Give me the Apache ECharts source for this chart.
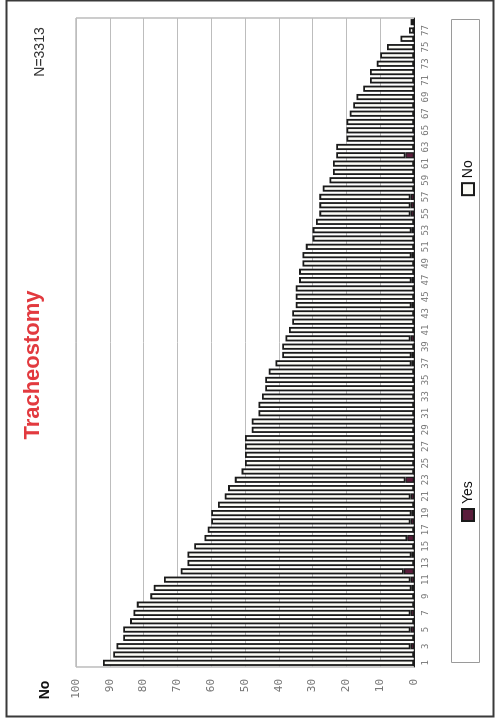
<!DOCTYPE html>
<html>
<head>
<meta charset="utf-8">
<script src="https://cdn.jsdelivr.net/npm/echarts@6/dist/echarts.min.js"></script>
<style>
html,body{margin:0;padding:0;background:#fff;width:495px;height:722px;overflow:hidden;}
#wrap{position:absolute;left:0;top:722px;width:722px;height:495px;transform-origin:0 0;transform:rotate(-90deg);}
</style>
</head>
<body>
<div id="wrap"></div>
<script>
const categories = ['1','2','3','4','5','6','7','8','9','10','11','12','13','14','15','16','17','18','19','20',
'21','22','23','24','25','26','27','28','29','30','31','32','33','34','35','36','37','38','39','40',
'41','42','43','44','45','46','47','48','49','50','51','52','53','54','55','56','57','58','59','60',
'61','62','63','64','65','66','67','68','69','70','71','72','73','74','75','76','77','78'];
const yesValues = [0,0,1,0,1,0,1,0,0,0.7, 1,3,0,0.7,0,2,0,1,0.7,0, 1,0,2.5,0,0,0,0,0,0,0,
0,0,0,0,0,0,0.7,0.7,0,1, 0,0,0,0.7,0,0,0.7,0,0,0.7, 0,0,0.7,0,1,1,1,0,0,0,
0,2.5,0,0,0,0,0,0,0,0, 0,0,0,0,0,0,0,0];
const noValues = [92,89,87,86,85,84,82,82,78,76.3, 73,66,67,66.3,65,60,61,59,59.3,58, 55,55,50.5,51,50,50,50,50,48,48,
46,46,45,44,44,43,40.3,38.3,39,37, 37,36,36,34.3,35,35,33.3,34,33,32.3, 32,30,29.3,29,27,27,27,27,25,24,
24,20.5,23,20,20,20,19,18,17,15, 13,13,11,10,8,4,1.5,1];
const seriesNames = ['Yes','No'];
const valueTicks = {min:0, max:100, interval:10};
const titleText = 'Tracheostomy';
const axisTitle = 'No';
const sampleText = 'N=3313';

const chart = echarts.init(document.getElementById('wrap'), null, {width:722, height:495});
const option = {
  animation: false,
  backgroundColor: '#ffffff',
  grid: {left:55, right:18, top:76, bottom:81, show:true, borderColor:'#9a9a9a', borderWidth:1, backgroundColor:'transparent'},
  xAxis: {
    type:'category', data:categories, position:'bottom',
    axisLine:{show:true, lineStyle:{color:'#222', width:1}},
    axisTick:{show:false},
    axisLabel:{interval:1, color:'#777', fontFamily:'DejaVu Sans Mono', fontSize:9, margin:7}
  },
  yAxis: {
    type:'value', min:valueTicks.min, max:valueTicks.max, interval:valueTicks.interval,
    axisLine:{show:false}, axisTick:{show:false},
    axisLabel:{color:'#777', fontFamily:'DejaVu Sans Mono', fontSize:11, margin:12},
    splitLine:{show:true, lineStyle:{color:'#bdbdbd', width:1}}
  },
  legend: {
    data: seriesNames, left:195, top:456, itemWidth:12, itemHeight:12, itemGap:285, icon:'rect',
    textStyle:{fontFamily:'Liberation Sans', fontSize:14, color:'#111'}
  },
  series: [
    {name:seriesNames[0], type:'bar', stack:'t', data:yesValues, barCategoryGap:'26%',
     itemStyle:{color:'#5a1d3b', borderColor:'#1a1a1a', borderWidth:1.3}},
    {name:seriesNames[1], type:'bar', stack:'t', data:noValues, barCategoryGap:'26%',
     itemStyle:{color:'#fbfbf6', borderColor:'#1a1a1a', borderWidth:1.8}}
  ],
  graphic: [
    {type:'rect', left:3, top:4, shape:{width:716, height:487}, style:{fill:'none', stroke:'#3a3a3a', lineWidth:2}, silent:true},
    {type:'rect', left:57, top:449, shape:{width:643, height:28}, style:{fill:'none', stroke:'#9a9a9a', lineWidth:1}, silent:true},
    {type:'text', x:357, y:33, style:{text:titleText, fill:'#e23a3f', font:'bold 22px "Liberation Sans"', textAlign:'center', textVerticalAlign:'middle'}},
    {type:'text', x:32, y:45, style:{text:axisTitle, fill:'#111', font:'bold 14px "Liberation Sans"', textAlign:'center', textVerticalAlign:'middle'}},
    {type:'text', x:670, y:40, style:{text:sampleText, fill:'#333', font:'14px "Liberation Sans"', textAlign:'center', textVerticalAlign:'middle'}}
  ]
};
chart.setOption(option);
</script>
</body>
</html>
